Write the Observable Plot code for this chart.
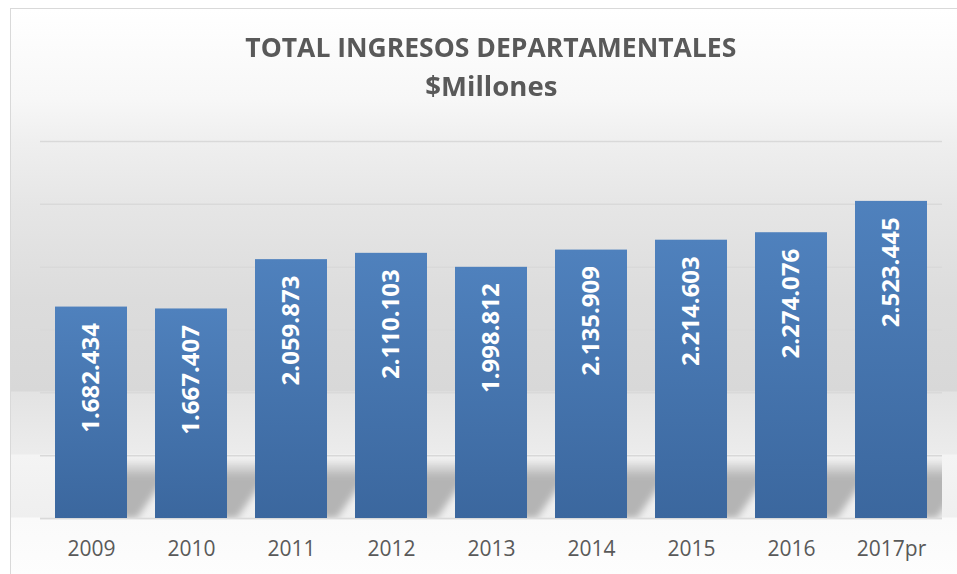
<!DOCTYPE html>
<html>
<head>
<meta charset="utf-8">
<script src="https://cdn.jsdelivr.net/npm/d3@7"></script>
<script src="https://cdn.jsdelivr.net/npm/@observablehq/plot@0.6"></script>
<style>
  html, body { margin: 0; padding: 0; background: #fff; }
  #page { position: relative; width: 957px; height: 574px; overflow: hidden; background: #fff; font-family: "Open Sans", sans-serif; }
  #frame {
    position: absolute; left: 10px; top: 8px; width: 980px; height: 600px;
    border: 1px solid #d9d9d9;
    background: linear-gradient(to bottom,
      #ffffff 0px, #f7f7f7 91px, #efefef 132px, #e6e6e6 195px, #dcdcdc 291px,
      #d8d8d8 382px, #e3e3e3 383px, #ececec 445px, #f4f4f4 446px, #efefef 508px,
      #fafafa 509px, #fdfdfd 566px);
  }
  #chart { position: absolute; left: 0; top: 0; }
  .title { position: absolute; left: 0; width: 982px; text-align: center; font-weight: 700; font-size: 26px; line-height: 26px; color: #595959; white-space: nowrap; }
  .title span { display: inline-block; transform-origin: center; }
</style>
</head>
<body>
<div id="page">
  <div id="frame"></div>
  <div class="title" style="top:34px"><span data-w="491">TOTAL INGRESOS DEPARTAMENTALES</span></div>
  <div class="title" style="top:73px"><span data-w="132">$Millones</span></div>
  <div id="chart"></div>
</div>
<script>
const years = ["2009", "2010", "2011", "2012", "2013", "2014", "2015", "2016", "2017pr"];
const values = [1682434, 1667407, 2059873, 2110103, 1998812, 2135909, 2214603, 2274076, 2523445];
const gridTicks = [0, 500000, 1000000, 1500000, 2000000, 2500000, 3000000];

const data = years.map((year, i) => ({year, value: values[i]}));
const locale = d3.formatLocale({decimal: ",", thousands: ".", grouping: [3], currency: ["$", ""]});
const fmt = locale.format(",d");

const plot = Plot.plot({
  width: 957,
  height: 574,
  marginLeft: 40,
  marginRight: 15,
  marginTop: 141,
  marginBottom: 56,
  style: {background: "transparent", fontFamily: "Open Sans, sans-serif", fontSize: "21px", color: "#595959", overflow: "visible"},
  x: {type: "band", domain: years, range: [41, 941], paddingInner: 0.28, paddingOuter: 0.14, round: false, tickSize: 0, tickPadding: 23, label: null},
  y: {domain: [0, 3000000], axis: null},
  marks: [
    Plot.ruleY(gridTicks, {stroke: "#d9d9d9", strokeWidth: 1.5}),
    Plot.barY(data, {x: "year", y: "value", fill: "#b8b8b8"}),
    Plot.ruleY([0], {stroke: "#d9d9d9", strokeWidth: 1.5}),
    Plot.barY(data, {x: "year", y: "value", fill: "#4674ad"}),
    Plot.text(data, {x: "year", y: "value", text: d => fmt(d.value), rotate: -90, textAnchor: "end", lineAnchor: "middle", dy: 16, fill: "white", fontWeight: "bold", fontSize: 24})
  ]
});
document.getElementById("chart").appendChild(plot);

// title width fitting
function fitTitles() {
  document.querySelectorAll(".title span").forEach(s => {
    s.style.transform = "none";
    const w = s.getBoundingClientRect().width;
    if (w > 0) s.style.transform = `scaleX(${(+s.dataset.w) / w})`;
  });
}
fitTitles();
if (document.fonts) document.fonts.load("700 26px 'Open Sans'").then(fitTitles);

// gradients, shadow effect
const ns = "http://www.w3.org/2000/svg";
const svg = d3.select(plot);
const defs = svg.insert("defs", ":first-child");
const bg = defs.append("linearGradient").attr("id", "barGrad").attr("x1", 0).attr("y1", 0).attr("x2", 0).attr("y2", 1);
bg.append("stop").attr("offset", "0%").attr("stop-color", "#4f81bd");
bg.append("stop").attr("offset", "100%").attr("stop-color", "#3b679e");

const barGroups = plot.querySelectorAll('g[aria-label="bar"]');
const sNode = barGroups[0];
const bNode = barGroups[1];
if (bNode) bNode.setAttribute("fill", "url(#barGrad)");

const ys = plot.scale("y");
const yBase = ys.apply(0), yTop = ys.apply(gridTicks[1]);
const sg = defs.append("linearGradient").attr("id", "shadowGrad").attr("gradientUnits", "userSpaceOnUse")
  .attr("x1", 0).attr("x2", 0).attr("y1", yTop + 3).attr("y2", yTop + 22);
sg.append("stop").attr("offset", "0%").attr("stop-color", "#b4b4b4").attr("stop-opacity", 0);
sg.append("stop").attr("offset", "100%").attr("stop-color", "#b4b4b4").attr("stop-opacity", 1);
const clip = defs.append("clipPath").attr("id", "floorClip");
clip.append("rect").attr("x", 40).attr("y", yTop).attr("width", 957 - 15 - 40).attr("height", yBase - yTop);
const blur = defs.append("filter").attr("id", "shadowBlur").attr("x", "-20%").attr("y", "-20%").attr("width", "140%").attr("height", "140%");
blur.append("feGaussianBlur").attr("stdDeviation", 3.5);

if (sNode) {
  const outer = document.createElementNS(ns, "g");
  const mid = document.createElementNS(ns, "g");
  const inner = document.createElementNS(ns, "g");
  sNode.parentNode.insertBefore(outer, sNode);
  outer.appendChild(mid); mid.appendChild(inner); inner.appendChild(sNode);
  outer.setAttribute("clip-path", "url(#floorClip)");
  mid.setAttribute("filter", "url(#shadowBlur)");
  const k = 0.7, c = 10;
  inner.setAttribute("transform", `translate(${c + k * yBase},0) skewX(${-Math.atan(k) * 180 / Math.PI})`);
  sNode.setAttribute("fill", "url(#shadowGrad)");
}
</script>
</body>
</html>
